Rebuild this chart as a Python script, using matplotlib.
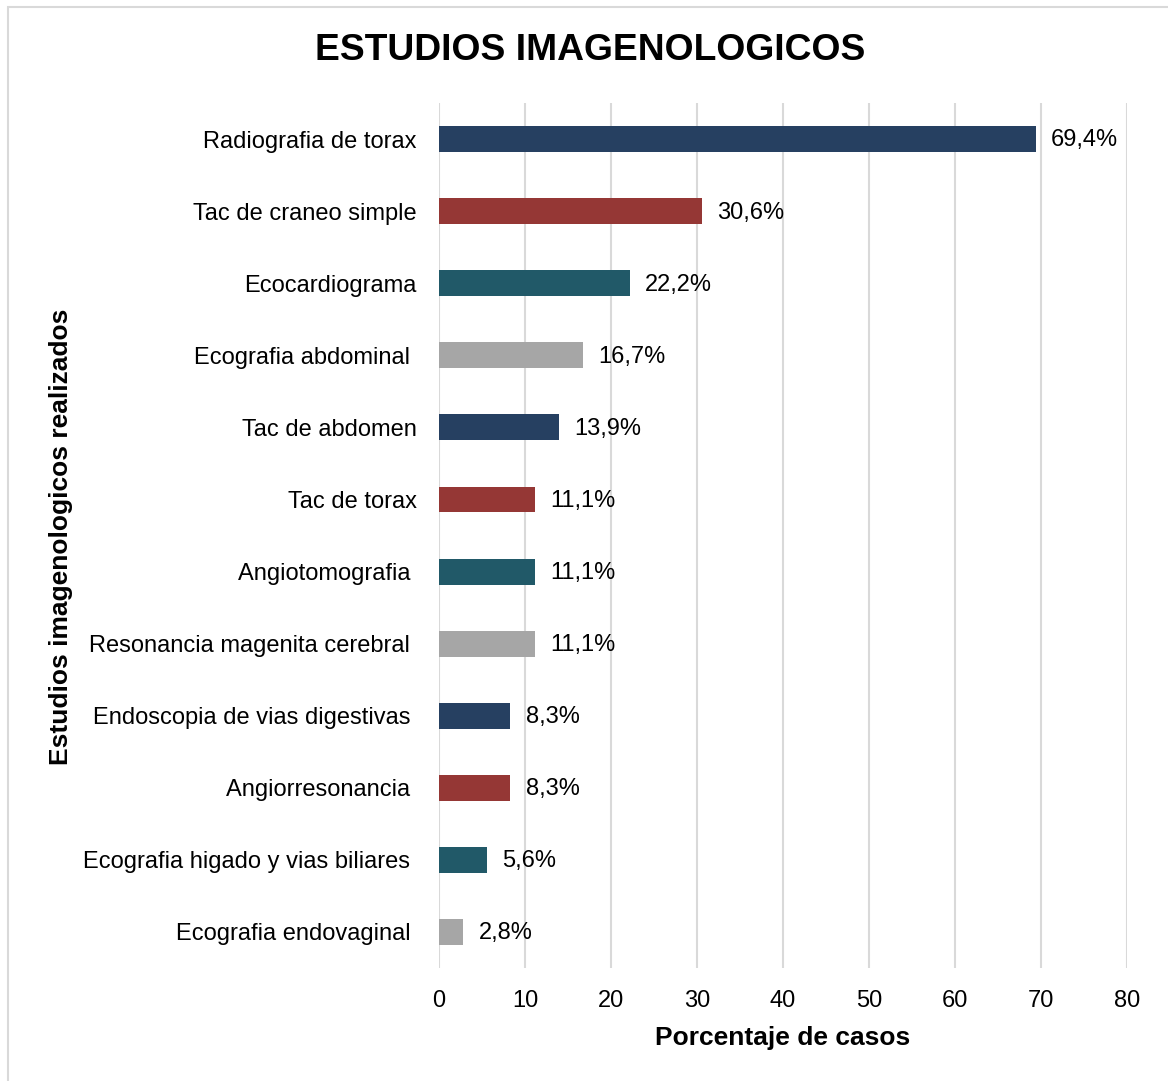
import matplotlib.pyplot as plt
from matplotlib.patches import Rectangle

plt.rcParams['font.family'] = ['Liberation Sans', 'DejaVu Sans']

# data
estudios = ['Radiografia de torax', 'Tac de craneo simple', 'Ecocardiograma',
            'Ecografia abdominal ', 'Tac de abdomen', 'Tac de torax',
            'Angiotomografia ', 'Resonancia magenita cerebral ',
            'Endoscopia de vias digestivas ', 'Angiorresonancia ',
            'Ecografia higado y vias biliares ', 'Ecografia endovaginal ']
porcentajes = [69.4, 30.6, 22.2, 16.7, 13.9, 11.1, 11.1, 11.1, 8.3, 8.3, 5.6, 2.8]
etiquetas = ['69,4%', '30,6%', '22,2%', '16,7%', '13,9%', '11,1%', '11,1%',
             '11,1%', '8,3%', '8,3%', '5,6%', '2,8%']
paleta = ['#264061', '#953735', '#215968', '#A6A6A6']
colores = [paleta[i % 4] for i in range(len(estudios))]

fig = plt.figure(figsize=(11.68, 10.81), dpi=100)
ax = fig.add_axes([0.3759, 0.1045, 0.589, 0.8002])

pos = list(range(len(estudios)))
ax.barh(pos, porcentajes, height=0.36, color=colores, zorder=3)
for p, v, t in zip(pos, porcentajes, etiquetas):
    ax.annotate(t, (v, p), xytext=(11, -1), textcoords='offset points',
                va='center', ha='left', fontsize=17)

ax.set_ylim(11.5, -0.5)
ax.set_xlim(0, 80)
ax.set_xticks(range(0, 81, 10))
ax.set_yticks(pos)
ax.set_yticklabels(estudios)
ax.tick_params(axis='both', length=0, labelsize=17)
ax.tick_params(axis='y', pad=16)
ax.tick_params(axis='x', pad=16)
ax.grid(axis='x', color='#D9D9D9', linewidth=1.5, zorder=0)
for s in ax.spines.values():
    s.set_visible(False)

ax.set_xlabel('Porcentaje de casos', fontsize=19, fontweight='bold', labelpad=10)
fig.text(0.052, 0.5035, 'Estudios imagenologicos realizados', rotation=90,
         ha='center', va='center', fontsize=19, fontweight='bold')
fig.text(0.505, 0.953, 'ESTUDIOS IMAGENOLOGICOS', ha='center', va='center',
         fontsize=26.8, fontweight='bold')

# marco del grafico
fig.patches.append(Rectangle((0.007, -0.01), 1.0, 1.0035, transform=fig.transFigure,
                             fill=False, edgecolor='#D9D9D9', linewidth=1.5))

fig.savefig('out.png', dpi=100, facecolor='white')
